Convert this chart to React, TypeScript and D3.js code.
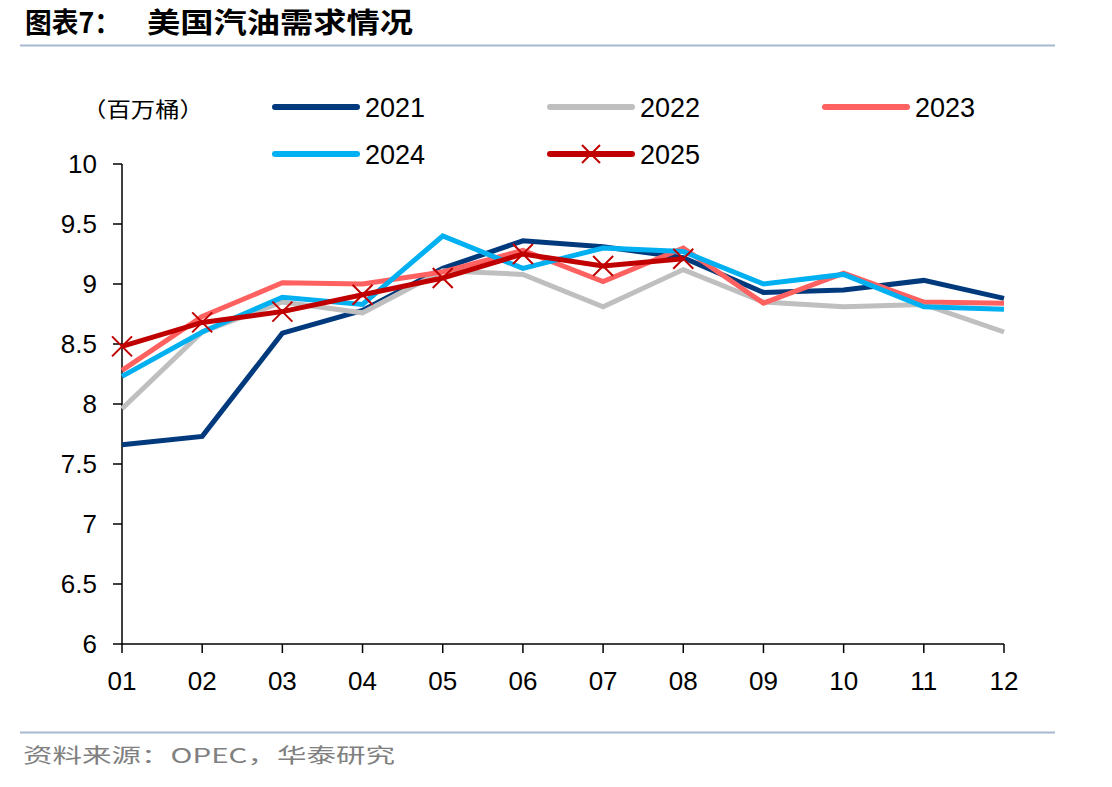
import React from "react";
import * as d3 from "d3";

const months = ["01", "02", "03", "04", "05", "06", "07", "08", "09", "10", "11", "12"];
const yTicks = [6, 6.5, 7, 7.5, 8, 8.5, 9, 9.5, 10];
const s2021 = [7.66, 7.73, 8.59, 8.78, 9.13, 9.36, 9.31, 9.22, 8.93, 8.95, 9.03, 8.88];
const s2022 = [7.96, 8.6, 8.85, 8.76, 9.11, 9.08, 8.81, 9.12, 8.85, 8.81, 8.83, 8.6];
const s2023 = [8.28, 8.73, 9.01, 9.0, 9.1, 9.28, 9.02, 9.3, 8.84, 9.09, 8.85, 8.84];
const s2024 = [8.23, 8.6, 8.89, 8.83, 9.4, 9.13, 9.3, 9.27, 9.0, 9.08, 8.81, 8.79];
const s2025 = [8.48, 8.68, 8.77, 8.91, 9.05, 9.25, 9.15, 9.21];

const seriesNames = ["2021", "2022", "2023", "2024", "2025"];
const seriesData = [s2021, s2022, s2023, s2024, s2025];
const colors = ["#003A7D", "#BFBFBF", "#FF6161", "#00B0F0", "#C00000"];

const FONT = "'Liberation Sans', Arial, sans-serif";
const CJK = "'Noto Sans CJK SC', sans-serif";

export default function App() {
  const W = 1112, H = 787;
  const x = d3.scalePoint<string>().domain(months).range([122, 1004]);
  const y = d3.scaleLinear().domain([6, 10]).range([644, 164]);
  const line = d3
    .line<number>()
    .x((_, i) => x(months[i]) as number)
    .y((d) => y(d));

  const legendPos = [
    [275, 107],
    [550, 107],
    [825, 107],
    [275, 154],
    [550, 154],
  ];

  const cross = (cx: number, cy: number, r: number, key: string) => (
    <path
      key={key}
      d={`M${cx - r},${cy - r}L${cx + r},${cy + r}M${cx - r},${cy + r}L${cx + r},${cy - r}`}
      stroke="#C00000"
      strokeWidth={2}
      fill="none"
    />
  );

  return (
    <svg width={W} height={H} style={{ position: "absolute", left: 0, top: 0, background: "#fff" }}>
      <rect x={0} y={0} width={W} height={H} fill="#fff" />
      {/* Title */}
      <text x={25} y={33} fontFamily={CJK} fontWeight="bold" fontSize={28} fill="#000" textLength={96} lengthAdjust="spacingAndGlyphs">
        图表7：
      </text>
      <text x={147} y={33} fontFamily={CJK} fontWeight="bold" fontSize={28} fill="#000" textLength={266} lengthAdjust="spacingAndGlyphs">
        美国汽油需求情况
      </text>
      <line x1={20} x2={1055} y1={45.5} y2={45.5} stroke="#A6B8CF" strokeWidth={2} />
      <line x1={20} x2={1055} y1={732.5} y2={732.5} stroke="#A6B8CF" strokeWidth={2} />
      <text x={23} y={763} fontFamily={CJK} fontSize={20} fill="#808080" textLength={372} lengthAdjust="spacingAndGlyphs">
        资料来源：OPEC，华泰研究
      </text>

      {/* unit */}
      <text x={82} y={117} fontFamily={CJK} fontSize={21} fill="#000" textLength={122} lengthAdjust="spacingAndGlyphs">
        （百万桶）
      </text>

      {/* axes */}
      <line x1={122} x2={122} y1={164} y2={644} stroke="#000" strokeWidth={1.5} />
      <line x1={122} x2={1004} y1={644} y2={644} stroke="#000" strokeWidth={1.5} />
      {yTicks.map((t) => (
        <g key={"y" + t}>
          <line x1={113} x2={122} y1={y(t)} y2={y(t)} stroke="#000" strokeWidth={1.5} />
          <text x={97} y={y(t) + 9} textAnchor="end" fontFamily={FONT} fontSize={26} fill="#000">
            {String(t)}
          </text>
        </g>
      ))}
      {months.map((m) => (
        <g key={"x" + m}>
          <line x1={x(m)} x2={x(m)} y1={644} y2={653} stroke="#000" strokeWidth={1.5} />
          <text x={x(m)} y={690} textAnchor="middle" fontFamily={FONT} fontSize={26} fill="#000">
            {m}
          </text>
        </g>
      ))}

      {/* series */}
      {seriesData.map((s, i) => (
        <path
          key={seriesNames[i]}
          d={line(s) || ""}
          fill="none"
          stroke={colors[i]}
          strokeWidth={5}
          strokeLinejoin="miter"
        />
      ))}
      {s2025.map((v, i) => cross(x(months[i]) as number, y(v), 10, "m" + i))}

      {/* legend */}
      {seriesNames.map((n, i) => {
        const [lx, ly] = legendPos[i];
        return (
          <g key={"lg" + n}>
            <line x1={lx} x2={lx + 82} y1={ly} y2={ly} stroke={colors[i]} strokeWidth={6} strokeLinecap="round" />
            {i === 4 && cross(lx + 41, ly, 9, "lgx")}
            <text x={lx + 90} y={ly + 10} fontFamily={FONT} fontSize={27} fill="#000">
              {n}
            </text>
          </g>
        );
      })}
    </svg>
  );
}
